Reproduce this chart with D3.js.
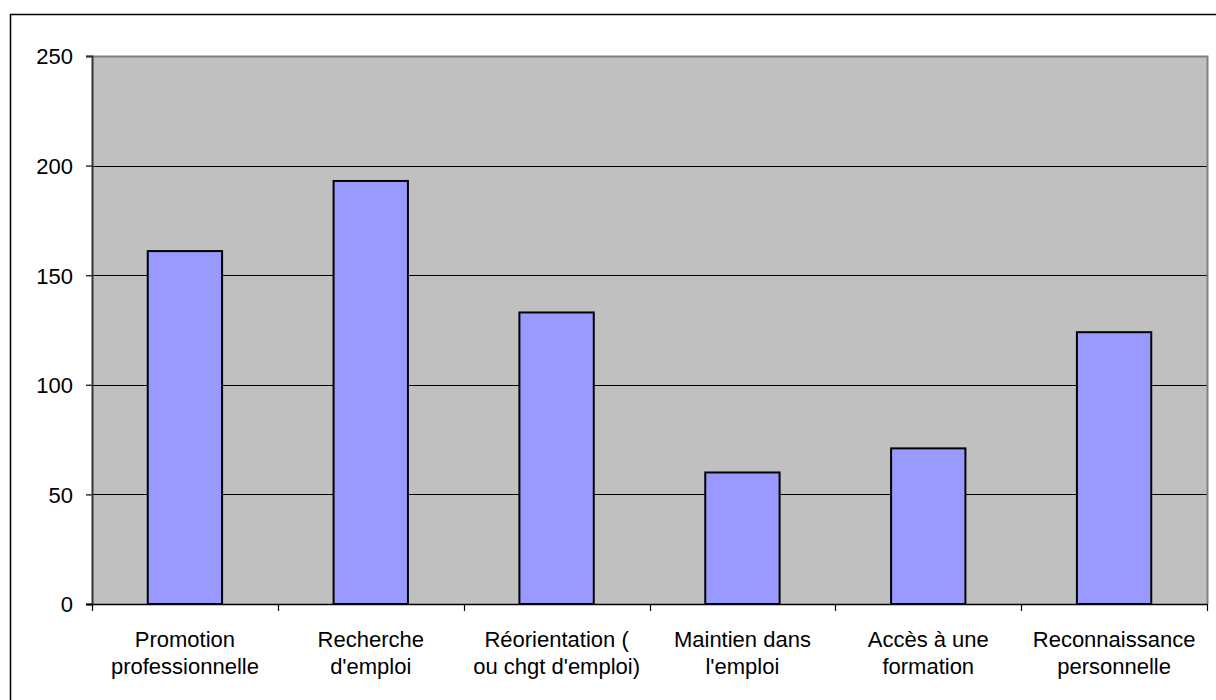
<!DOCTYPE html>
<html>
<head>
<meta charset="utf-8">
<script src="https://cdn.jsdelivr.net/npm/d3@7"></script>
<style>
html,body{margin:0;padding:0;background:#fff;}
svg{display:block;}
text{font-family:"Liberation Sans",Arial,sans-serif;fill:#000;}
</style>
</head>
<body>
<svg id="chart" width="1216" height="700"></svg>
<script>
const categories = [
  ["Promotion", "professionnelle"],
  ["Recherche", "d'emploi"],
  ["Réorientation (", "ou chgt d'emploi)"],
  ["Maintien dans", "l'emploi"],
  ["Accès à une", "formation"],
  ["Reconnaissance", "personnelle"]
];
const values = [161, 193, 133, 60, 71, 124];
const yTicks = [0, 50, 100, 150, 200, 250];

(function () {
const svg = d3.select("#chart");
const pL = 92, pR = 1207, pT = 56, pB = 604;

// outer frame (clipped by page edges)
svg.append("rect")
  .attr("x", 10.5).attr("y", 14.5)
  .attr("width", 1230).attr("height", 720)
  .attr("fill", "none").attr("stroke", "#000").attr("stroke-width", 1.5);

const x = d3.scaleBand().domain(d3.range(categories.length)).range([pL, pR]).paddingInner(0).paddingOuter(0);
const y = d3.scaleLinear().domain([0, 250]).range([pB, pT]);

// plot background
svg.append("rect")
  .attr("x", pL).attr("y", pT)
  .attr("width", pR - pL).attr("height", pB - pT)
  .attr("fill", "#c0c0c0");

// gridlines
svg.append("g").selectAll("line")
  .data(yTicks.filter(d => d > 0 && d < 250))
  .join("line")
  .attr("x1", pL).attr("x2", pR)
  .attr("y1", d => Math.round(y(d)) + 0.5).attr("y2", d => Math.round(y(d)) + 0.5)
  .attr("stroke", "#000").attr("stroke-width", 1);

// plot border top & right (gray)
svg.append("path")
  .attr("d", `M${pL},${pT + 0.5}H${pR + 0.5}V${pB}`)
  .attr("fill", "none").attr("stroke", "#808080").attr("stroke-width", 2);

// bars
const bw = x.bandwidth() / 2.5;
svg.append("g").selectAll("rect")
  .data(values)
  .join("rect")
  .attr("x", (d, i) => x(i) + (x.bandwidth() - bw) / 2)
  .attr("y", d => y(d))
  .attr("width", bw)
  .attr("height", d => y(0) - y(d))
  .attr("fill", "#9999ff")
  .attr("stroke", "#000").attr("stroke-width", 2);

// y axis
const yAxis = d3.axisLeft(y).tickValues(yTicks).tickSize(6).tickPadding(13);
const gy = svg.append("g").attr("transform", `translate(${pL},0)`).call(yAxis);
gy.select(".domain").attr("stroke", "#333").attr("stroke-width", 2);
gy.selectAll(".tick line").attr("stroke", "#333").attr("stroke-width", 1.5);
gy.selectAll("text").style("font-size", "22px").attr("fill", "#000").attr("dy", "0.36em");

// x axis
const xAxisScale = d3.scaleLinear().domain([0, categories.length]).range([pL, pR]);
const gx = svg.append("g").attr("transform", `translate(0,${pB})`);
gx.append("line").attr("x1", pL - 6).attr("x2", pR + 1).attr("y1", 0.5).attr("y2", 0.5)
  .attr("stroke", "#000").attr("stroke-width", 1.5);
gx.selectAll("line.tk")
  .data(d3.range(categories.length + 1))
  .join("line").attr("class", "tk")
  .attr("x1", d => Math.round(xAxisScale(d)) + 0.5).attr("x2", d => Math.round(xAxisScale(d)) + 0.5)
  .attr("y1", 0).attr("y2", 7)
  .attr("stroke", "#000").attr("stroke-width", 1.2);

const labels = svg.append("g").selectAll("text")
  .data(categories)
  .join("text")
  .attr("text-anchor", "middle")
  .style("font-size", "22px")
  .attr("transform", (d, i) => `translate(${x(i) + x.bandwidth() / 2},0)`);
labels.selectAll("tspan")
  .data(d => d)
  .join("tspan")
  .attr("x", 0)
  .attr("y", (d, j) => 647 + j * 27)
  .text(d => d);
})();
</script>
</body>
</html>
